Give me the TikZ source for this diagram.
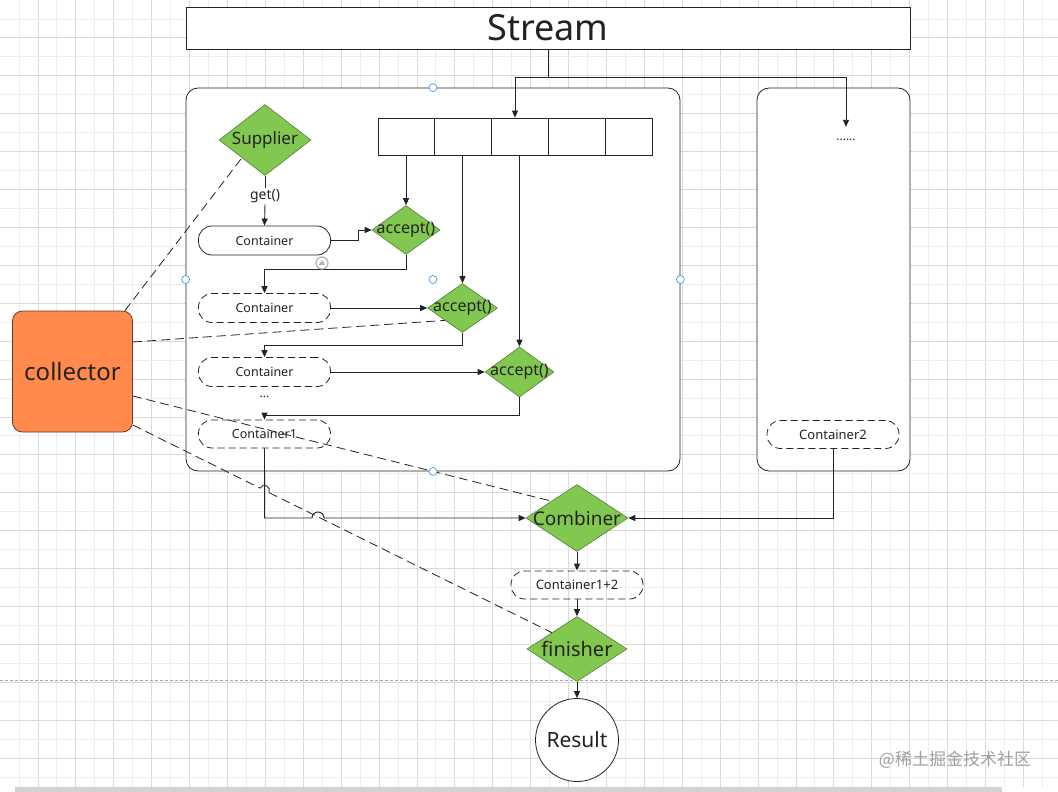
\documentclass[tikz,border=0pt]{standalone}
\usepackage{fontspec}
\setmainfont{Noto Sans}
\newfontfamily\cjkfont{Noto Sans CJK SC}
\usetikzlibrary{shapes.geometric,arrows.meta,calc}
\definecolor{gfill}{HTML}{82C850}
\definecolor{gline}{HTML}{4F7F34}
\definecolor{ofill}{HTML}{FF8A4C}
\definecolor{oline}{HTML}{6B3A20}
\definecolor{ink}{HTML}{222222}
\definecolor{gridmin}{HTML}{EDEDED}
\definecolor{gridmaj}{HTML}{D9D9D9}
\definecolor{handle}{HTML}{3A8EE6}
\begin{document}
\begin{tikzpicture}[x=1pt,y=-1pt,
  line/.style={draw=ink, line width=0.9pt},
  arr/.style={line, -{Triangle[length=7pt,width=6pt]}},
  dline/.style={draw=ink, line width=0.8pt, dash pattern=on 9pt off 5pt},
  dia/.style={diamond, draw=gline, fill=gfill, line width=0.6pt, inner sep=0pt},
  dlab/.style={text=ink, inner sep=0pt},
  pill/.style={rectangle, rounded corners=13.5pt, draw=ink, line width=0.8pt, minimum width=132pt, minimum height=29pt, inner sep=0pt, font=\fontsize{12.5}{14}\selectfont, text=ink},
  dpill/.style={pill, dash pattern=on 7pt off 4pt},
  box/.style={rectangle, rounded corners=12pt, draw=ink, line width=0.8pt, fill=white, inner sep=0pt},
  cell/.style={rectangle, draw=ink, line width=0.8pt, fill=white, minimum height=37pt, inner sep=0pt},
  hnd/.style={circle, draw=handle, fill=white, line width=0.6pt, minimum size=8pt, inner sep=0pt},
]
\useasboundingbox (0,0) rectangle (1058,792);
\fill[white] (0,0) rectangle (1058,792);
% grid
\foreach \i in {1,...,55}{
  \ifodd\i\relax
    \draw[gridmin, line width=0.8pt] (\i*18.95,0) -- (\i*18.95,787);
  \else
    \draw[gridmaj, line width=0.8pt] (\i*18.95,0) -- (\i*18.95,787);
  \fi}
\foreach \i in {1,...,41}{
  \ifodd\i\relax
    \draw[gridmin, line width=0.8pt] (0,\i*18.95) -- (1058,\i*18.95);
  \else
    \draw[gridmaj, line width=0.8pt] (0,\i*18.95) -- (1058,\i*18.95);
  \fi}
\draw[gray!70, dash pattern=on 3pt off 2pt, line width=0.6pt] (0,680) -- (1058,680);
\fill[gray!35] (15,787) rectangle (1002,792);

% top stream
\node[rectangle, draw=ink, line width=0.9pt, fill=white, minimum width=724pt, minimum height=42pt, inner sep=0pt, font=\fontsize{36}{40}\selectfont, text=ink] (stream) at (548,28) {Stream};

% containers
\node[box, minimum width=494pt, minimum height=383pt] (lbox) at (433,279.5) {};
\node[box, minimum width=153pt, minimum height=383pt] (rbox) at (833.5,279.5) {};

% array
\node[cell, minimum width=56pt] (k1) at (406,136.5) {};
\node[cell, minimum width=57pt] (k2) at (462.5,136.5) {};
\node[cell, minimum width=57pt] (k3) at (519.5,136.5) {};
\node[cell, minimum width=57pt] (k4) at (576.5,136.5) {};
\node[cell, minimum width=47pt] (k5) at (628.5,136.5) {};

\node[font=\fontsize{12}{14}\selectfont, text=ink, inner sep=0pt, minimum height=26pt] (dots) at (846,140) {......};

% left flow
\node[dia, minimum width=92pt, minimum height=71pt, label={[dlab, font=\fontsize{17}{20}\selectfont]center:Supplier}] (sup) at (265,140) {};
\node[font=\fontsize{14}{16}\selectfont, text=ink, inner sep=1.5pt] (get) at (265,196) {get()};
\node[pill] (c1) at (264.5,240.5) {Container};
\node[dia, minimum width=68pt, minimum height=49pt, label={[dlab, font=\fontsize{16}{18}\selectfont]center:accept()}] (a1) at (406,230) {};
\node[dpill] (c2) at (264.5,308) {Container};
\node[dia, minimum width=70pt, minimum height=49pt, label={[dlab, font=\fontsize{16}{18}\selectfont]center:accept()}] (a2) at (462.5,308) {};
\node[dpill] (c3) at (264.5,372) {Container};
\node[dia, minimum width=69pt, minimum height=50pt, label={[dlab, font=\fontsize{16}{18}\selectfont]center:accept()}] (a3) at (519.5,372) {};
\node[font=\fontsize{12}{14}\selectfont, text=ink, inner sep=0pt] (ell) at (264.5,397) {...};
\node[dpill, minimum height=28pt] (c4) at (264.5,434) {Container1};
\node[dpill, minimum height=28pt, font=\fontsize{13}{15}\selectfont] (d2) at (833,434.5) {Container2};

% bottom flow
\node[dia, minimum width=102pt, minimum height=67pt, label={[dlab, font=\fontsize{19}{22}\selectfont]center:Combiner}] (comb) at (577,518) {};
\node[dpill, minimum height=28pt, font=\fontsize{13}{15}\selectfont] (c12) at (577,585) {Container1+2};
\node[dia, minimum width=100pt, minimum height=65pt, label={[dlab, font=\fontsize{20}{23}\selectfont]center:finisher}] (fin) at (577,649) {};
\node[circle, draw=ink, line width=0.8pt, fill=white, minimum size=83pt, inner sep=0pt, font=\fontsize{21}{24}\selectfont, text=ink] (res) at (577,740) {Result};

% collector
\node[rectangle, rounded corners=10pt, draw=oline, fill=ofill, line width=0.8pt, minimum width=120pt, minimum height=121pt, inner sep=0pt, font=\fontsize{24}{28}\selectfont, text=ink] (col) at (72.5,371.5) {collector};

% connectors from stream
\coordinate (j0) at (548,77);
\draw[line] (stream.south) -- (j0);
\draw[arr] (j0) -| ($(k3.north)+(-4.5,0)$);
\draw[arr] (j0) -| (dots.north);
\draw[arr] (k1.south) -- (a1.north);
\draw[arr] (k2.south) -- (a2.north);
\draw[arr] (k3.south) -- (a3.north);

% left chain
\draw[line] (sup.south) -- (get.north);
\draw[arr] (get.south) -- (c1.north);
\draw[arr] (c1.east) -- ++(28,0) |- (a1.west);
\draw[arr] (a1.south) -- ++(0,14.5) -| (c2.north);
\draw[arr] (c2.east) -- (a2.west);
\draw[arr] (a2.south) -- ++(0,12.5) -| (c3.north);
\draw[arr] (c3.east) -- (a3.west);
\draw[arr] (a3.south) -- ++(0,18) -| (c4.north);
\coordinate (hopA) at (312,518);
\draw[arr] (c4.south) |- (hopA) arc[start angle=180, end angle=360, radius=6] -- (comb.west);
\draw[arr] (d2.south) |- (comb.east);
\draw[arr] (comb.south) -- (c12.north);
\draw[arr] (c12.south) -- (fin.north);
\draw[arr] (fin.south) -- (res.north);

% collector dashed links
\draw[dline] ($(col.north east)+(-8,0)$) -- (sup.south west);
\draw[dline] ($(col.east)+(0,-29.5)$) -- (a2.south west);
\draw[dline] ($(col.east)+(0,24.5)$) -- (comb.north west);
\coordinate (hopB) at (260.02,488.15);
\draw[dline] ($(col.east)+(0,53.5)$) -- (hopB);
\draw[draw=ink, line width=0.8pt] (hopB) arc[start angle=206.34, end angle=386.34, radius=5] coordinate (hopC);
\draw[dline] (hopC) -- (fin.north west);

% selection handles and icon
\node[hnd] (h1) at (lbox.north) {};
\node[hnd] (h2) at (lbox.west) {};
\node[hnd] (h3) at (lbox.center) {};
\node[hnd] (h4) at (lbox.east) {};
\node[hnd] (h5) at (lbox.south) {};
\node[circle, draw=gray!60, line width=1.2pt, fill=white, minimum size=12pt, inner sep=0pt] (ico) at (322,263) {};
\fill[gray!60] ($(ico.center)+(0,-3)$) -- ++(3.2,5) -- ++(-6.4,0) -- cycle;

% watermark
\node[font=\cjkfont\fontsize{17}{20}\selectfont, text=gray!75, inner sep=0pt] (wm) at (955,760) {@稀土掘金技术社区};
\end{tikzpicture}
\end{document}
